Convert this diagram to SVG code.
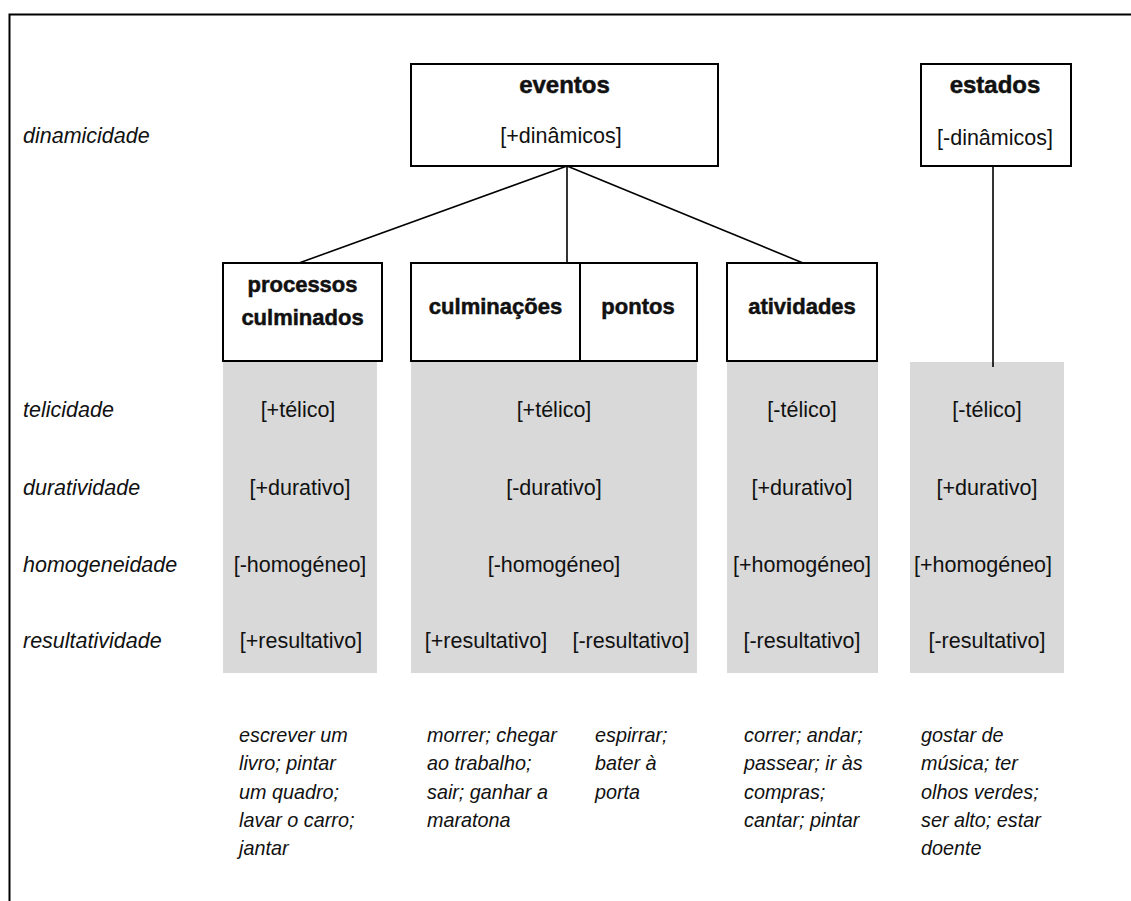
<svg xmlns="http://www.w3.org/2000/svg" width="1131" height="901" viewBox="0 0 1131 901">
  <style>
    .frame { fill: none; stroke: #000; stroke-width: 2; }
    .box { fill: #fff; stroke: #000; stroke-width: 2; }
    .band { fill: #d9d9d9; stroke: none; }
    .link { fill: none; stroke: #000; stroke-width: 1.6; }
    text { font-family: "Liberation Sans", Arial, sans-serif; fill: #111; }
    .head { font-size: 24px; font-weight: bold; text-anchor: middle; stroke: #111; stroke-width: 0.5; }
    .sub { font-size: 22px; font-weight: bold; text-anchor: middle; stroke: #111; stroke-width: 0.5; }
    .feat { font-size: 21.5px; text-anchor: middle; }
    .label { font-size: 21.5px; font-style: italic; }
    .ex { font-size: 19.8px; font-style: italic; }
  </style>

  <rect width="1131" height="901" fill="#fff"/>
  <!-- page frame (open at right and bottom) -->
  <path class="frame" d="M9.5,901 V14.5 H1131"/>

  <!-- row labels -->
  <g id="row-labels">
    <text class="label" x="23" y="143">dinamicidade</text>
    <text class="label" x="23" y="417">telicidade</text>
    <text class="label" x="23" y="495">duratividade</text>
    <text class="label" x="23" y="572">homogeneidade</text>
    <text class="label" x="23" y="648">resultatividade</text>
  </g>

  <!-- shaded feature bands -->
  <g id="bands">
    <rect class="band" x="223" y="362" width="154" height="311"/>
    <rect class="band" x="411" y="362" width="286" height="311"/>
    <rect class="band" x="727" y="362" width="151" height="311"/>
    <rect class="band" x="910" y="362" width="154" height="311"/>
  </g>

  <!-- connectors -->
  <g id="connectors">
    <line class="link" x1="567" y1="166" x2="299" y2="263"/>
    <line class="link" x1="567" y1="166" x2="567" y2="263"/>
    <line class="link" x1="567" y1="166" x2="803" y2="263"/>
    <line class="link" x1="993" y1="166" x2="993" y2="367"/>
  </g>

  <g id="eventos">
    <rect class="box" x="411" y="64" width="307" height="102"/>
    <text class="head" x="564.5" y="93">eventos</text>
    <text class="feat" x="561" y="143">[+dinâmicos]</text>
  </g>

  <g id="estados">
    <rect class="box" x="921" y="64" width="150" height="102"/>
    <text class="head" x="995" y="93">estados</text>
    <text class="feat" x="995" y="145">[-dinâmicos]</text>
  </g>

  <g id="processos-culminados">
    <rect class="box" x="223" y="263" width="159" height="98"/>
    <text class="sub" x="302.5" y="292">processos</text>
    <text class="sub" x="302.5" y="325">culminados</text>
  </g>

  <g id="culminacoes-pontos">
    <rect class="box" x="411" y="263" width="286" height="98"/>
    <line class="box" x1="580" y1="263" x2="580" y2="361"/>
    <text class="sub" x="495.5" y="314">culminações</text>
    <text class="sub" x="638" y="314">pontos</text>
  </g>

  <g id="atividades">
    <rect class="box" x="727" y="263" width="150" height="98"/>
    <text class="sub" x="802" y="314">atividades</text>
  </g>

  <!-- feature values per class -->
  <g id="features-processos">
    <text class="feat" x="298" y="417">[+télico]</text>
    <text class="feat" x="300" y="495">[+durativo]</text>
    <text class="feat" x="300" y="572">[-homogéneo]</text>
    <text class="feat" x="301" y="648">[+resultativo]</text>
  </g>
  <g id="features-culminacoes">
    <text class="feat" x="554" y="417">[+télico]</text>
    <text class="feat" x="554" y="495">[-durativo]</text>
    <text class="feat" x="554" y="572">[-homogéneo]</text>
    <text class="feat" x="486" y="648">[+resultativo]</text>
    <text class="feat" x="631" y="648">[-resultativo]</text>
  </g>
  <g id="features-atividades">
    <text class="feat" x="802" y="417">[-télico]</text>
    <text class="feat" x="802" y="495">[+durativo]</text>
    <text class="feat" x="802" y="572">[+homogéneo]</text>
    <text class="feat" x="802" y="648">[-resultativo]</text>
  </g>
  <g id="features-estados">
    <text class="feat" x="987" y="417">[-télico]</text>
    <text class="feat" x="987" y="495">[+durativo]</text>
    <text class="feat" x="983" y="572">[+homogéneo]</text>
    <text class="feat" x="987" y="648">[-resultativo]</text>
  </g>

  <!-- examples -->
  <g id="examples">
    <text class="ex" x="239" y="742">escrever um</text>
    <text class="ex" x="239" y="770.3">livro; pintar</text>
    <text class="ex" x="239" y="798.6">um quadro;</text>
    <text class="ex" x="239" y="826.9">lavar o carro;</text>
    <text class="ex" x="239" y="855.2">jantar</text>

    <text class="ex" x="427" y="742">morrer; chegar</text>
    <text class="ex" x="427" y="770.3">ao trabalho;</text>
    <text class="ex" x="427" y="798.6">sair; ganhar a</text>
    <text class="ex" x="427" y="826.9">maratona</text>

    <text class="ex" x="595" y="742">espirrar;</text>
    <text class="ex" x="595" y="770.3">bater à</text>
    <text class="ex" x="595" y="798.6">porta</text>

    <text class="ex" x="744" y="742">correr; andar;</text>
    <text class="ex" x="744" y="770.3">passear; ir às</text>
    <text class="ex" x="744" y="798.6">compras;</text>
    <text class="ex" x="744" y="826.9">cantar; pintar</text>

    <text class="ex" x="921" y="742">gostar de</text>
    <text class="ex" x="921" y="770.3">música; ter</text>
    <text class="ex" x="921" y="798.6">olhos verdes;</text>
    <text class="ex" x="921" y="826.9">ser alto; estar</text>
    <text class="ex" x="921" y="855.2">doente</text>
  </g>
</svg>
